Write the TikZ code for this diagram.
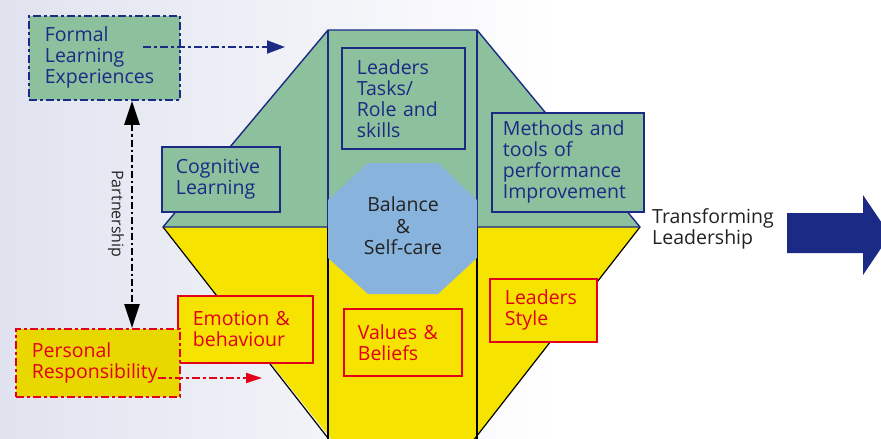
\documentclass[tikz,border=0pt]{standalone}
\usepackage{fontspec}
\setmainfont{Open Sans}
\usetikzlibrary{arrows.meta,calc}
\definecolor{navy}{RGB}{27,42,132}
\definecolor{lgreen}{RGB}{141,192,157}
\definecolor{yel}{RGB}{246,228,0}
\definecolor{dyel}{RGB}{232,216,0}
\definecolor{rred}{RGB}{226,0,26}
\definecolor{oblue}{RGB}{136,179,220}
\definecolor{dgray}{RGB}{34,34,34}
\definecolor{bgl}{RGB}{224,227,239}
\tikzset{
  dashdot/.style={dash pattern=on 8pt off 3pt on 3pt off 3pt},
  boxbase/.style={anchor=north west, align=left, inner ysep=0pt,
    font=\fontsize{19.5}{21}\selectfont, line width=1.8pt},
  gbox/.style={boxbase, draw=navy, fill=lgreen, text=navy},
  ybox/.style={boxbase, draw=rred, fill=yel, text=rred},
  bxsize/.style n args={3}{minimum width=#1, minimum height=#2,
    inner xsep=#3, text width=#1-2*#3},
}
\begin{document}
\begin{tikzpicture}[x=1pt,y=-1pt]
\useasboundingbox (0,0) rectangle (881,439);
\clip (0,0) rectangle (881,439);
\shade[left color=bgl, right color=white] (0,0) rectangle (560,439);
\fill[white] (560,0) rectangle (881,439);
% diamond body
\fill[yel] (163,227) -- (640,227) -- (470,445) -- (336,445) -- cycle;
\fill[lgreen] (163,227) -- (328,30) -- (477,30) -- (640,227) -- cycle;
\draw[black, line width=1.2pt] (163,227) -- (336.5,449);
\draw[black, line width=1.2pt] (640,227) -- (469,446);
\draw[black, line width=1.4pt] (328,227) -- (328,445);
\draw[black, line width=1.4pt] (477,227) -- (477,445);
\draw[navy, line width=1.4pt, line join=round] (163,227) -- (328,30) -- (477,30) -- (640,227) -- cycle;
\draw[navy, line width=1.4pt] (328,30) -- (328,227);
\draw[navy, line width=1.4pt] (477,30) -- (477,227);
% octagon
\fill[oblue] (368,163) -- (438,163) -- (477,200) -- (477,258) -- (438,294) -- (368,294) -- (328,258) -- (328,200) -- cycle;
\node[align=center, text=dgray, font=\fontsize{19.5}{21.5}\selectfont] (bal) at (403,226) {Balance\\\&\\Self-care};
% boxes
\node[gbox, dashdot, bxsize={151pt}{84pt}{16pt}] (formal) at (28,15) {Formal\\Learning\\Experiences};
\node[gbox, bxsize={118pt}{65pt}{14pt}] (cog) at (161,146) {Cognitive\\Learning};
\node[gbox, bxsize={123pt}{101pt}{15pt}] (tasks) at (341,47) {Leaders\\Tasks/\\Role and\\skills};
\node[gbox, bxsize={152pt}{99pt}{11pt}] (meth) at (491,112) {Methods and\\tools of\\performance\\Improvement};
\node[ybox, bxsize={135pt}{67pt}{15pt}] (emo) at (177,295) {Emotion \&\\behaviour};
\node[ybox, bxsize={118pt}{67pt}{14pt}] (val) at (343,308) {Values \&\\Beliefs};
\node[ybox, bxsize={107pt}{63pt}{15pt}] (sty) at (489,278) {Leaders\\Style};
\node[ybox, dashdot, fill=dyel, bxsize={164pt}{68pt}{16pt}] (pers) at (15,328) {Personal\\Responsibility};
% transforming
\node[anchor=west, align=left, text=dgray, font=\fontsize{19.5}{21.5}\selectfont, inner sep=0pt] (trans) at (652,229) {Transforming\\Leadership};
\fill[navy] (787,213) -- (863,213) -- (863,195) -- (890,235) -- (863,275) -- (863,253) -- (787,253) -- cycle;
% connectors
\coordinate (fa) at (143,47);
\coordinate (fb) at (285,47);
\draw[navy, line width=2pt, dashdot, -{Triangle[length=18pt,width=13pt]}] (fa) -- (fb);
\coordinate (pa) at (158,378);
\coordinate (pb) at (262,378);
\draw[rred, line width=2pt, dashdot, -{Triangle[length=16pt,width=10pt]}] (pa) -- (pb);
\coordinate (px) at (132,0);
\draw[black, line width=2.6pt, dash pattern=on 7pt off 3pt on 2.5pt off 3pt, {Triangle[length=24pt,width=15pt]}-{Triangle[length=24pt,width=15pt]}] (formal.south -| px) -- (pers.north -| px);
\node[rotate=-90, text=dgray, font=\fontsize{16}{18}\selectfont] (part) at (116,214) {Partnership};
\end{tikzpicture}
\end{document}
